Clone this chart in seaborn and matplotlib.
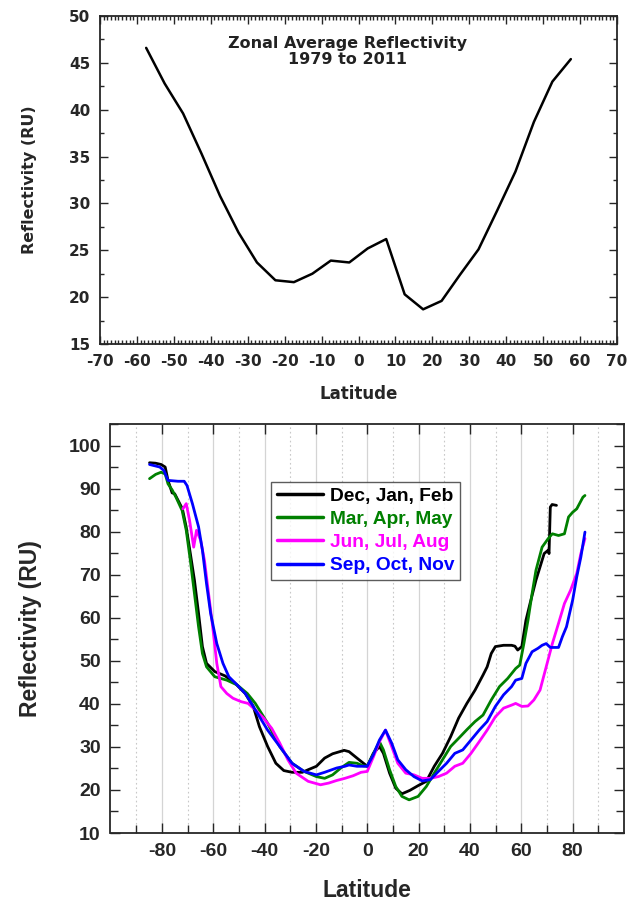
import numpy as np
import pandas as pd
import matplotlib
matplotlib.use("Agg")
import matplotlib.pyplot as plt
from matplotlib.ticker import MultipleLocator, FixedLocator
import seaborn as sns

# ---------------- data ----------------
# Top panel: zonal average reflectivity 1979-2011
top_lat = [-57.5, -52.5, -47.5, -42.5, -37.5, -32.5, -27.5, -22.5, -17.5, -12.5, -7.5, -2.5,
           2.5, 7.5, 12.5, 17.5, 22.5, 27.5, 32.5, 37.5, 42.5, 47.5, 52.5, 57.5]
top_refl = [46.6, 42.8, 39.6, 35.3, 30.8, 26.9, 23.7, 21.8, 21.6, 22.5, 23.9, 23.7,
            25.2, 26.2, 20.3, 18.7, 19.6, 22.4, 25.1, 29.2, 33.4, 38.7, 43.0, 45.4]

# Bottom panel: seasonal zonal reflectivity
djf_lat = [-84.8, -82.5, -80.3, -78.7, -77.6, -76.0, -75.0, -72.0, -70.5, -68.9, -67.3, -65.7,
           -64.2, -62.6, -59.4, -55.4, -51.5, -47.5, -44.4, -42.0, -38.8, -35.6, -32.5, -29.3,
           -25.3, -23.0, -19.8, -16.6, -13.5, -9.0, -7.1, -4.0, 0.0, 2.4, 4.75, 6.3, 8.7, 11.1,
           13.5, 16.6, 19.8, 23.0, 26.1, 29.3, 32.5, 35.6, 38.8, 42.0, 45.1, 46.7, 48.3, 49.9,
           53.1, 56.2, 57.5, 58.6, 60.2, 61.8, 63.4, 65.7, 67.3, 68.9, 70.5, 70.8, 71.3, 72.0, 73.7]
djf_val = [96.0, 95.9, 95.6, 95.0, 91.9, 89.0, 88.8, 85.3, 81.0, 74.9, 68.7, 61.0,
           53.3, 49.4, 47.5, 46.5, 44.8, 42.4, 39.4, 34.7, 30.1, 26.2, 24.5, 24.1,
           24.1, 24.7, 25.5, 27.4, 28.4, 29.2, 28.9, 27.4, 25.5, 28.5, 30.1, 28.5, 23.9, 20.4,
           19.1, 19.9, 21.0, 22.0, 25.5, 28.5, 32.4, 36.7, 40.1, 43.2, 46.7, 48.6, 51.7, 53.3,
           53.6, 53.6, 53.4, 52.5, 53.3, 59.4, 63.3, 68.7, 71.8, 74.9, 75.7, 74.9, 85.7, 86.3, 86.1]

mam_lat = [-84.8, -82.4, -80.3, -78.7, -77.6, -76.0, -74.5, -72.1, -70.5, -68.9, -67.3, -65.7,
           -64.2, -62.6, -59.4, -54.7, -50.7, -46.7, -43.6, -38.8, -34.1, -29.3, -24.6, -19.8,
           -16.6, -13.5, -10.3, -7.1, -4.0, -1.6, 0.0, 2.4, 4.75, 6.3, 8.7, 11.1, 13.5, 16.3,
           19.8, 23.0, 26.1, 29.3, 32.5, 35.6, 38.8, 42.0, 45.1, 48.3, 51.5, 54.7, 57.8, 59.4,
           61.0, 62.6, 64.2, 65.7, 68.1, 70.5, 72.1, 74.5, 76.8, 78.4, 80.0, 81.6, 84.0, 84.8]
mam_val = [92.3, 93.3, 93.8, 93.4, 91.1, 89.7, 88.0, 84.9, 80.3, 73.3, 65.6, 57.9,
           51.7, 48.6, 46.3, 45.5, 44.4, 42.4, 40.1, 35.5, 30.1, 26.2, 24.3, 23.1,
           22.7, 23.5, 25.1, 26.4, 26.2, 25.6, 25.5, 28.5, 31.2, 29.3, 24.7, 20.8, 18.5, 17.7,
           18.5, 20.8, 23.9, 27.0, 30.1, 32.0, 34.0, 35.9, 37.4, 40.9, 44.0, 45.9, 48.2, 49.0,
           54.0, 59.4, 65.6, 71.0, 76.4, 78.4, 79.5, 79.1, 79.5, 83.4, 84.5, 85.3, 88.0, 88.4]

jja_lat = [-71.8, -70.5, -69.2, -67.6, -66.5, -64.9, -63.4, -61.8, -60.2, -58.6, -57.0, -54.7,
           -52.3, -49.1, -46.4, -43.6, -40.4, -37.2, -34.1, -30.9, -27.7, -23.0, -18.2, -15.0,
           -11.9, -8.7, -5.5, -2.4, 0.0, 2.4, 4.75, 7.1, 9.5, 11.9, 15.0, 18.2, 21.4, 24.6,
           27.7, 30.9, 34.1, 37.2, 40.4, 43.6, 46.7, 49.9, 53.1, 56.2, 57.8, 60.2, 62.6, 64.9,
           67.3, 69.7, 72.1, 74.5, 76.8, 79.2, 81.6, 83.2, 84.8]
jja_val = [85.3, 86.5, 82.6, 76.4, 80.3, 78.0, 73.3, 65.6, 57.9, 49.4, 44.0, 42.4,
           41.3, 40.5, 40.1, 38.6, 36.7, 34.3, 30.9, 27.0, 23.9, 22.0, 21.2, 21.6,
           22.2, 22.7, 23.3, 24.1, 24.3, 27.7, 31.2, 33.9, 30.1, 26.2, 23.9, 23.5, 22.7, 22.7,
           23.1, 23.9, 25.5, 26.2, 28.5, 31.2, 33.9, 37.0, 39.0, 39.7, 40.1, 39.4, 39.5, 40.9,
           43.2, 48.6, 54.0, 58.7, 63.3, 66.4, 70.3, 74.9, 78.4]

son_lat = [-84.8, -80.8, -79.2, -77.6, -73.7, -71.3, -70.2, -68.1, -65.7, -64.2, -62.6, -61.0,
           -58.6, -56.2, -53.9, -50.7, -47.5, -43.6, -38.8, -34.1, -29.3, -24.6, -19.8, -16.6,
           -11.9, -8.7, -7.1, -4.0, 0.0, 2.4, 4.75, 7.1, 9.5, 11.9, 15.0, 18.2, 21.4, 24.6,
           27.7, 30.9, 34.1, 37.2, 40.4, 43.6, 46.7, 49.9, 53.1, 56.2, 57.8, 60.2, 61.8, 64.2,
           66.5, 68.1, 69.7, 71.3, 74.5, 76.0, 77.6, 80.0, 81.6, 83.2, 84.8]
son_val = [95.6, 95.0, 94.2, 91.9, 91.7, 91.7, 90.7, 86.5, 81.1, 75.7, 67.9, 61.0,
           54.0, 49.4, 46.3, 44.4, 42.4, 38.6, 33.9, 30.1, 26.2, 24.3, 23.5, 24.1,
           25.1, 25.5, 25.8, 25.5, 25.5, 28.2, 31.6, 33.9, 30.9, 27.0, 24.7, 23.1, 22.1, 22.4,
           24.3, 26.2, 28.5, 29.3, 31.6, 33.9, 35.9, 39.4, 42.1, 44.0, 45.5, 45.9, 49.4, 52.1,
           52.9, 53.6, 54.0, 53.1, 53.1, 55.6, 57.9, 64.1, 69.5, 74.1, 79.9]

season_labels = ["Dec, Jan, Feb", "Mar, Apr, May", "Jun, Jul, Aug", "Sep, Oct, Nov"]
season_colors = ["#000000", "#008000", "#FF00FF", "#0000FF"]

# ---------------- style ----------------
sns.set_style("ticks")
plt.rcParams["font.family"] = ["DejaVu Sans"]
plt.rcParams["font.weight"] = "bold"
plt.rcParams["axes.labelweight"] = "bold"
plt.rcParams["axes.unicode_minus"] = False

TOPF = "DejaVu Sans"
BOTF = "Liberation Sans"

fig = plt.figure(figsize=(6.3, 9.09), dpi=100)

# ---------------- top panel ----------------
ax1 = fig.add_axes([100 / 630, 1 - 344 / 909, 517 / 630, 328 / 909])
sns.lineplot(x=top_lat, y=top_refl, color="black", linewidth=1.8, ax=ax1, estimator=None)
ax1.set_xlim(-70, 70)
ax1.set_ylim(15, 50)
ax1.xaxis.set_major_locator(MultipleLocator(10))
ax1.xaxis.set_minor_locator(MultipleLocator(1))
ax1.yaxis.set_major_locator(MultipleLocator(5))
ax1.yaxis.set_minor_locator(MultipleLocator(2.5))
ax1.tick_params(which="both", direction="in", top=True, right=True, width=1.0)
ax1.tick_params(which="major", length=6, labelsize=11, pad=7)
ax1.tick_params(which="minor", length=3)
for lab in ax1.get_xticklabels() + ax1.get_yticklabels():
    lab.set_fontweight("bold")
    lab.set_fontfamily(TOPF)
for sp in ax1.spines.values():
    sp.set_linewidth(1.3)
ax1.set_xlabel("Latitude", fontsize=12, fontweight="bold", family=TOPF, labelpad=12)
ax1.set_ylabel("Reflectivity (RU)", fontsize=11.5, fontweight="bold", family=TOPF, labelpad=23)
ax1.text(-3, 47.9, "Zonal Average Reflectivity\n1979 to 2011", ha="center", va="top",
         fontsize=11.5, fontweight="bold", family=TOPF, color="#222222", linespacing=1.15)

# ---------------- bottom panel ----------------
ax2 = fig.add_axes([110.5 / 630, 1 - 833 / 909, 513.5 / 630, 409 / 909])

frames = []
for lab, la, va in zip(season_labels, [djf_lat, mam_lat, jja_lat, son_lat],
                       [djf_val, mam_val, jja_val, son_val]):
    frames.append(pd.DataFrame({"Latitude": la, "Reflectivity": va, "Season": lab}))
df = pd.concat(frames, ignore_index=True)

for x in range(-80, 81, 20):
    ax2.axvline(x, color="#d4d4d4", linewidth=0.9, zorder=0)
for x in range(-90, 91, 20):
    ax2.axvline(x, color="#c8c8c8", linewidth=0.8, linestyle=(0, (1.5, 2.5)), zorder=0)

sns.lineplot(data=df, x="Latitude", y="Reflectivity", hue="Season", hue_order=season_labels,
             palette=season_colors, linewidth=2.0, estimator=None, sort=False, ax=ax2)

ax2.set_xlim(-100, 100)
ax2.set_ylim(10, 105)
ax2.xaxis.set_major_locator(FixedLocator(list(range(-80, 81, 20))))
ax2.xaxis.set_minor_locator(FixedLocator(list(range(-90, 91, 20))))
ax2.yaxis.set_major_locator(MultipleLocator(10))
ax2.yaxis.set_minor_locator(MultipleLocator(5))
ax2.tick_params(which="both", direction="in", right=True, width=1.0)
ax2.tick_params(which="major", top=True, length=7, labelsize=14, pad=7)
ax2.tick_params(which="minor", top=False, length=6)
for lab in ax2.get_xticklabels() + ax2.get_yticklabels():
    lab.set_fontweight("bold")
    lab.set_fontfamily(BOTF)
for sp in ax2.spines.values():
    sp.set_linewidth(1.3)
ax2.set_xlabel("Latitude", fontsize=16.5, fontweight="bold", family=BOTF, labelpad=14)
ax2.set_ylabel("Reflectivity (RU)", fontsize=16.5, fontweight="bold", family=BOTF, labelpad=19)

leg = ax2.legend(loc="upper left", bbox_to_anchor=(0.3126, 0.859), borderaxespad=0,
                 fancybox=False, frameon=True, handlelength=2.4, handletextpad=0.37,
                 labelspacing=0.3, borderpad=0.3,
                 prop={"size": 13.8, "weight": "bold", "family": BOTF})
leg.get_frame().set_edgecolor("#333333")
leg.get_frame().set_linewidth(1.0)
for txt, col in zip(leg.get_texts(), season_colors):
    txt.set_color(col)
for ln in leg.get_lines():
    ln.set_linewidth(2.5)

fig.savefig("out.png", dpi=100)
